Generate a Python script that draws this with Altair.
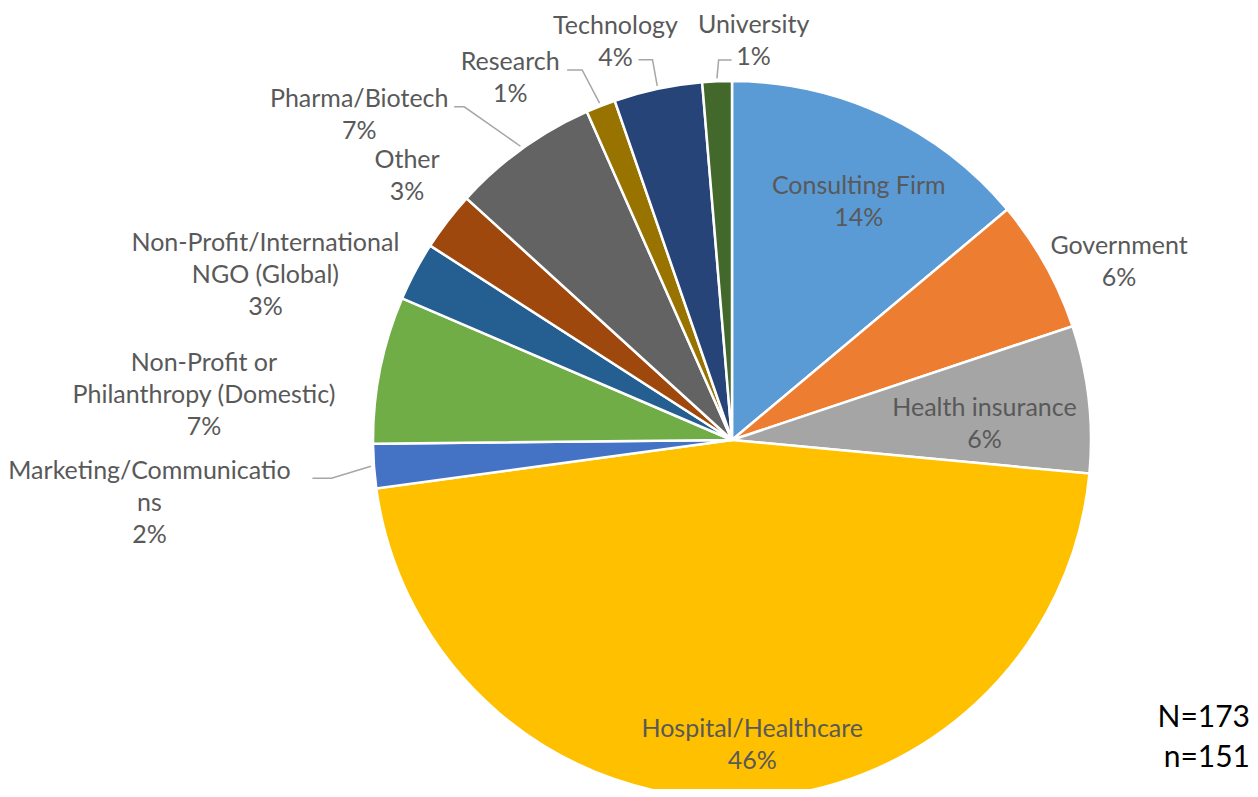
import math
import altair as alt
import pandas as pd

# ---------------- data ----------------
categories = [
    "Consulting Firm", "Government", "Health insurance", "Hospital/Healthcare",
    "Marketing/Communications", "Non-Profit or Philanthropy (Domestic)",
    "Non-Profit/International NGO (Global)", "Other", "Pharma/Biotech",
    "Research", "Technology", "University",
]
counts = [21, 9, 10, 70, 3, 10, 4, 4, 10, 2, 6, 2]
pct_labels = ["14%", "6%", "6%", "46%", "2%", "7%", "3%", "3%", "7%", "1%", "4%", "1%"]
# category names as wrapped in the picture
name_lines = [
    "Consulting Firm", "Government", "Health insurance", "Hospital/Healthcare",
    "Marketing/Communicatio\nns", "Non-Profit or\nPhilanthropy (Domestic)",
    "Non-Profit/International\nNGO (Global)", "Other", "Pharma/Biotech",
    "Research", "Technology", "University",
]
colors = [
    "#5B9BD5", "#ED7D31", "#A5A5A5", "#FFC000", "#4472C4", "#70AD47",
    "#255E91", "#9E480E", "#636363", "#997300", "#264478", "#43682B",
]
note_text = "N=173\nn=151"

# ---------------- layout ----------------
W, H = 1242, 781
CX, CY, R = 724, 432, 359
FONT = "Lato"
LH = 32
label_angle = [28, 65.3, 86.4, 176.2, 263.8, 274.9, 289.5, 309.1, 311.1, 328.5, 343.7, 3.1]
label_radius = [270, 426, 253, 305.6, 586, 530, 495, 418.7, 494.7, 424.6, 415, 399.6]
# leader: (end dx, end dy relative to label centre, horizontal tail)
leaders = {
    "Marketing/Communications": (163, -25, 19),
    "Pharma/Biotech": (95, -8, 10),
    "Research": (57, -8, 15),
    "Technology": (23, 18, 14),
    "University": (-22, 19, -13),
}

total = sum(counts)
cum = 0
mids = []
for c in counts:
    mids.append((cum + c / 2) / total * 2 * math.pi)
    cum += c

slices = pd.DataFrame({
    "category": categories,
    "count": counts,
    "order": list(range(len(categories))),
})

lab_rows = []
for i, cat in enumerate(categories):
    a = math.radians(label_angle[i])
    txt = name_lines[i] + "\n" + pct_labels[i]
    n = txt.count("\n") + 1
    cx_ = CX + label_radius[i] * math.sin(a)
    cy_ = CY - label_radius[i] * math.cos(a)
    lab_rows.append({
        "category": cat,
        "label": txt,
        "cx": cx_,
        "cy": cy_,
        "lx": cx_,
        "ly": cy_ - (n - 1) * LH / 2,  # first line position so block is centred
    })
labels = pd.DataFrame(lab_rows)

line_rows = []
for i, cat in enumerate(categories):
    if cat not in leaders:
        continue
    dx, dy, tail = leaders[cat]
    lx, ly = lab_rows[i]["cx"], lab_rows[i]["cy"]
    ex, ey = lx + dx, ly + dy
    sx = CX + (R + 3) * math.sin(mids[i])
    sy = CY - (R + 3) * math.cos(mids[i])
    line_rows += [
        {"category": cat, "pt": 0, "x": sx, "y": sy},
        {"category": cat, "pt": 1, "x": ex + tail, "y": ey},
        {"category": cat, "pt": 2, "x": ex, "y": ey},
    ]
lines = pd.DataFrame(line_rows)

color_scale = alt.Scale(domain=categories, range=colors)

pie = alt.Chart(slices).mark_arc(outerRadius=R, stroke="white", strokeWidth=2.5).encode(
    theta=alt.Theta("count:Q", stack=True),
    order=alt.Order("order:Q"),
    color=alt.Color("category:N", scale=color_scale, legend=None, sort=categories),
    x=alt.value(CX),
    y=alt.value(CY),
)

leader = alt.Chart(lines).mark_line(color="#A6A6A6", strokeWidth=1.5).encode(
    x=alt.X("x:Q", scale=None, axis=None),
    y=alt.Y("y:Q", scale=None, axis=None),
    detail="category:N",
    order="pt:Q",
)

text = alt.Chart(labels).mark_text(
    font=FONT, fontSize=25, color="#595959", align="center", baseline="middle",
    lineBreak="\n", lineHeight=LH,
).encode(
    x=alt.X("lx:Q", scale=None, axis=None),
    y=alt.Y("ly:Q", scale=None, axis=None),
    text="label:N",
)

note = alt.Chart(pd.DataFrame({"t": [note_text]})).mark_text(
    font=FONT, fontSize=30, color="#000000", align="right", baseline="middle",
    lineBreak="\n", lineHeight=40,
).encode(
    x=alt.value(1242), y=alt.value(710), text="t:N",
)

chart = alt.layer(pie, leader, text, note).properties(
    width=W, height=H, padding=0, autosize=alt.AutoSizeParams(type="none"),
).configure_view(stroke=None)

chart.save("out.html", embed_options={"renderer": "svg", "actions": False})
